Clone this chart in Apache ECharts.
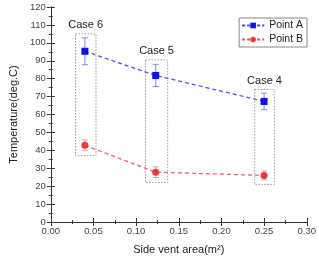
<!DOCTYPE html>
<html>
<head>
<meta charset="utf-8">
<script src="https://cdn.jsdelivr.net/npm/echarts@6/dist/echarts.min.js"></script>
<style>
  html, body { margin: 0; padding: 0; background: #fff; }
  #chart { width: 319px; height: 260px; }
</style>
</head>
<body>
<div id="chart"></div>
<script>
// side vent area (m2) for the three cases
var ventArea = [0.04, 0.123, 0.25];
var pointA = [95.3, 81.8, 67.3];
var pointAErr = [7.5, 6.2, 4.6];
var pointB = [42.8, 27.8, 26.0];
var pointBErr = [3.0, 3.0, 2.5];
// dashed boxes around each case: [xMin, xMax, yMin, yMax, label]
var caseBoxes = [
  [0.029, 0.053, 37, 105, 'Case 6'],
  [0.111, 0.137, 22, 90.5, 'Case 5'],
  [0.239, 0.262, 21, 74, 'Case 4']
];

var font = 'Liberation Sans, Arial, sans-serif';
var blue = '#1010e8';
var red = '#e83a3a';

function pairs(xs, ys) {
  return xs.map(function (x, i) { return [x, ys[i]]; });
}
function errData(xs, ys, es) {
  return xs.map(function (x, i) { return [x, ys[i] - es[i], ys[i] + es[i]]; });
}
function errRender(color) {
  return function (params, api) {
    var lo = api.coord([api.value(0), api.value(1)]);
    var hi = api.coord([api.value(0), api.value(2)]);
    var w = 3;
    var st = { stroke: color, lineWidth: 1 };
    return {
      type: 'group',
      children: [
        { type: 'line', shape: { x1: lo[0], y1: lo[1], x2: hi[0], y2: hi[1] }, style: st },
        { type: 'line', shape: { x1: lo[0] - w, y1: lo[1], x2: lo[0] + w, y2: lo[1] }, style: st },
        { type: 'line', shape: { x1: hi[0] - w, y1: hi[1], x2: hi[0] + w, y2: hi[1] }, style: st }
      ]
    };
  };
}

var chart = echarts.init(document.getElementById('chart'));

var axisLine = { lineStyle: { color: '#333', width: 1 } };
var tick = { inside: true, length: 4, lineStyle: { color: '#333' } };
var minor = { show: true, splitNumber: 2, length: 2, lineStyle: { color: '#333' } };

chart.setOption({
  animation: false,
  textStyle: { fontFamily: font },
  grid: { left: 38, top: 7, right: 9, bottom: 34 },
  legend: {
    right: 12, top: 18,
    orient: 'vertical',
    itemWidth: 22, itemHeight: 7, itemGap: 3,
    padding: [2, 4, 2, 2],
    borderColor: '#888', borderWidth: 1,
    lineStyle: { type: [3, 2] },
    textStyle: { fontSize: 10.5, color: '#222', fontFamily: font },
    data: ['Point A', 'Point B']
  },
  xAxis: [{
    type: 'value', min: 0, max: 0.3, interval: 0.05,
    name: 'Side vent area(m²)', nameLocation: 'middle', nameGap: 22,
    nameTextStyle: { fontSize: 11, color: '#222' },
    axisLine: axisLine, axisTick: tick, minorTick: minor,
    splitLine: { show: false },
    axisLabel: { fontSize: 9.5, color: '#444', margin: 4, formatter: function (v) { return v.toFixed(2); } }
  }, {
    type: 'value', min: 0, max: 0.3, interval: 0.05, position: 'top',
    axisLine: axisLine, axisTick: tick, minorTick: minor,
    splitLine: { show: false }, axisLabel: { show: false }
  }],
  yAxis: [{
    type: 'value', min: 0, max: 120, interval: 10,
    name: 'Temperature(deg.C)', nameLocation: 'middle', nameGap: 25,
    nameTextStyle: { fontSize: 11, color: '#222' },
    axisLine: axisLine, axisTick: tick, minorTick: minor,
    splitLine: { show: false },
    axisLabel: { fontSize: 9.5, color: '#444', margin: 5 }
  }, {
    type: 'value', min: 0, max: 120, interval: 10, position: 'right',
    axisLine: axisLine, axisTick: tick, minorTick: minor,
    splitLine: { show: false }, axisLabel: { show: false }
  }],
  series: [
    {
      type: 'custom',
      silent: true,
      data: caseBoxes,
      renderItem: function (params, api) {
        var p0 = api.coord([api.value(0), api.value(3)]);
        var p1 = api.coord([api.value(1), api.value(2)]);
        return {
          type: 'group',
          children: [
            {
              type: 'rect',
              shape: { x: p0[0], y: p0[1], width: p1[0] - p0[0], height: p1[1] - p0[1] },
              style: { fill: 'none', stroke: '#999', lineWidth: 1, lineDash: [1.5, 1.5] }
            },
            {
              type: 'text',
              style: {
                text: caseBoxes[params.dataIndex][4],
                x: (p0[0] + p1[0]) / 2, y: p0[1] - 3,
                align: 'center', verticalAlign: 'bottom',
                fontSize: 11, fontFamily: font, fill: '#222'
              }
            }
          ]
        };
      },
      z: 1
    },
    {
      type: 'custom', silent: true,
      data: errData(ventArea, pointA, pointAErr),
      renderItem: errRender('#8a8ae8'), z: 2
    },
    {
      type: 'custom', silent: true,
      data: errData(ventArea, pointB, pointBErr),
      renderItem: errRender('#f09a9a'), z: 2
    },
    {
      name: 'Point A', type: 'line',
      data: pairs(ventArea, pointA),
      symbol: 'rect', symbolSize: 7,
      itemStyle: { color: blue },
      lineStyle: { color: '#4a4aef', width: 1.2, type: [4, 3] },
      z: 3
    },
    {
      name: 'Point B', type: 'line',
      data: pairs(ventArea, pointB),
      symbol: 'circle', symbolSize: 7,
      itemStyle: { color: red },
      lineStyle: { color: '#e85a5a', width: 1.2, type: [4, 3] },
      z: 3
    }
  ]
});
</script>
</body>
</html>
